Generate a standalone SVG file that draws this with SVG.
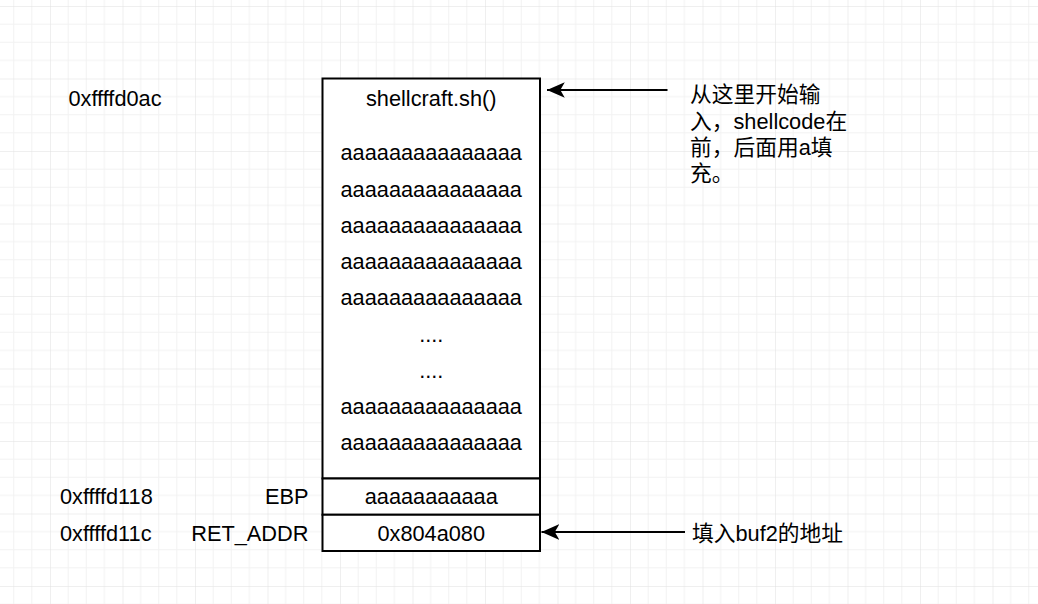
<svg xmlns="http://www.w3.org/2000/svg" width="1038" height="604" viewBox="0 0 1038 604">
<defs>
<pattern id="grid" patternUnits="userSpaceOnUse" x="-22.5" y="-66.5" width="72.5" height="72.5">
<path d="M18.125,0 V72.5 M36.25,0 V72.5 M54.375,0 V72.5 M0,18.125 H72.5 M0,36.25 H72.5 M0,54.375 H72.5" stroke="#f2f2f2" stroke-width="1" fill="none"/>
<path d="M0,0 V72.5 M0,0 H72.5" stroke="#e0e0e0" stroke-width="1" fill="none"/>
</pattern>
<marker id="arrow" markerUnits="userSpaceOnUse" markerWidth="20" markerHeight="20" viewBox="0 -8 18 16" refX="16" refY="0" orient="auto">
<path d="M0,-7 L16,0 L0,7 L4,0 Z" fill="#000"/>
</marker>
<style>
.t{font-family:"Liberation Sans","Noto Sans CJK SC",sans-serif;font-size:21.75px;fill:#000}
.m{text-anchor:middle}
.e{text-anchor:end}
.box{fill:#fff;stroke:#000;stroke-width:2}
.conn{stroke:#000;stroke-width:2;fill:none;marker-end:url(#arrow)}
</style>
</defs>
<rect width="1038" height="604" fill="#fff"/>
<rect width="1038" height="604" fill="url(#grid)"/>

<g id="stack-buffer">
<rect class="box" x="322.5" y="78.5" width="217.5" height="400"/>
<text class="t m" x="431.25" y="105.5">shellcraft.sh()</text>
<text class="t m" x="431.25" y="160.4">aaaaaaaaaaaaaaa</text>
<text class="t m" x="431.25" y="196.6">aaaaaaaaaaaaaaa</text>
<text class="t m" x="431.25" y="232.9">aaaaaaaaaaaaaaa</text>
<text class="t m" x="431.25" y="269.1">aaaaaaaaaaaaaaa</text>
<text class="t m" x="431.25" y="305.4">aaaaaaaaaaaaaaa</text>
<text class="t m" x="431.25" y="341.6">....</text>
<text class="t m" x="431.25" y="377.9">....</text>
<text class="t m" x="431.25" y="414.1">aaaaaaaaaaaaaaa</text>
<text class="t m" x="431.25" y="450.4">aaaaaaaaaaaaaaa</text>
</g>

<g id="stack-ebp">
<rect class="box" x="322.5" y="478.5" width="217.5" height="36.25"/>
<text class="t m" x="431.25" y="504.3">aaaaaaaaaaa</text>
</g>

<g id="stack-ret">
<rect class="box" x="322.5" y="514.75" width="217.5" height="36.25"/>
<text class="t m" x="431.25" y="541.2">0x804a080</text>
</g>

<g id="addr-top">
<text class="t m" x="115" y="106">0xffffd0ac</text>
</g>
<g id="addr-ebp">
<text class="t" x="60" y="504.3">0xffffd118</text>
</g>
<g id="addr-ret">
<text class="t" x="60" y="541.2">0xffffd11c</text>
</g>
<g id="label-ebp">
<text class="t e" x="308.5" y="504.3">EBP</text>
</g>
<g id="label-ret">
<text class="t e" x="308.5" y="541.2">RET_ADDR</text>
</g>

<g id="note-input">
<text class="t" x="690" y="102.4"><tspan x="690" y="102.4">从这里开始输</tspan><tspan x="690" y="128.5">入，shellcode在</tspan><tspan x="690" y="154.6">前，后面用a填</tspan><tspan x="690" y="180.7">充。</tspan></text>
</g>
<g id="note-ret">
<text class="t" x="692" y="541.2">填入buf2的地址</text>
</g>

<g id="connectors">
<line class="conn" x1="667.5" y1="90" x2="547" y2="90"/>
<line class="conn" x1="685" y1="532" x2="541.5" y2="532"/>
</g>
</svg>
